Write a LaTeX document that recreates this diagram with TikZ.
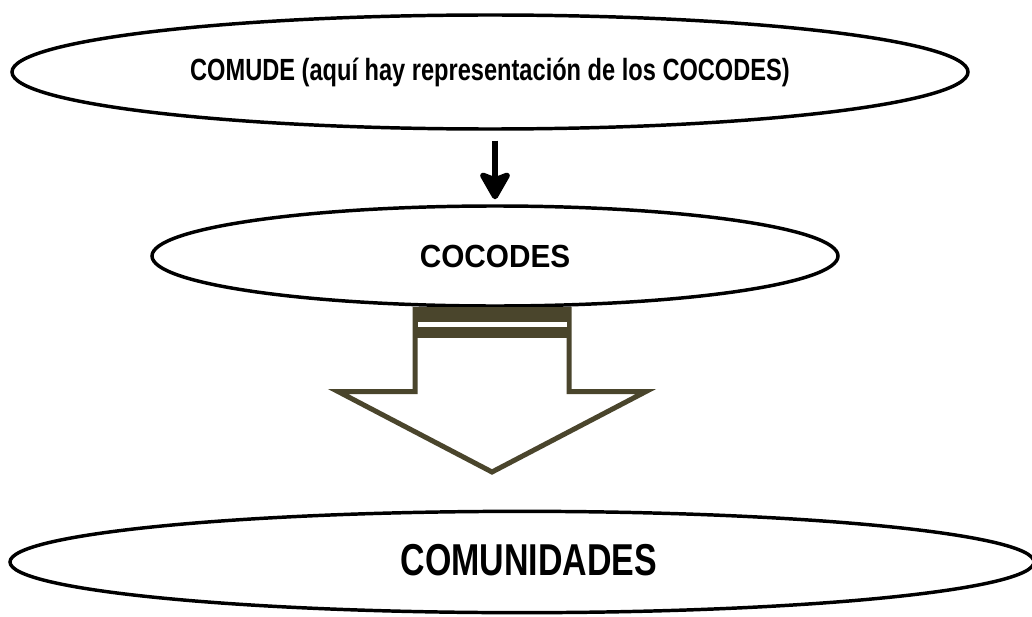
\documentclass[tikz,border=0pt]{standalone}
\usepackage{fontspec}
\setmainfont{Liberation Sans}
\usepackage{graphicx}
\usepackage{tikz}
\usetikzlibrary{shapes.geometric,arrows.meta}
\definecolor{arrowbrown}{RGB}{74,69,44}
\tikzset{
  levelnode/.style={ellipse,draw=black,line width=2.6pt,fill=white,
    inner sep=0pt,font=\bfseries},
  linkarrow/.style={line width=4.5pt,
    -{Stealth[length=24pt,width=27pt,inset=5pt,round]}},
  blockarrow/.style={draw=arrowbrown,fill=white,line width=3.75pt,
    line join=miter},
  blockbar/.style={fill=arrowbrown}
}

\begin{document}
\begin{tikzpicture}[x=0.75pt,y=-0.75pt]
  \useasboundingbox (0,0) rectangle (1032,617);

  \node[levelnode,minimum width=717pt,minimum height=85.5pt] (comude) at (490,72)
    {\fontsize{23pt}{23pt}\selectfont\scalebox{0.77}[1]{COMUDE (aquí hay representación de los COCODES)}};
  \node[levelnode,minimum width=514.5pt,minimum height=75pt] (cocodes) at (495,256)
    {\fontsize{24pt}{24pt}\selectfont\scalebox{0.93}[1]{COCODES}};
  \node[levelnode,minimum width=768pt,minimum height=76pt] (comunidades) at (522,562)
    {\hspace*{10.5pt}\raisebox{3.75pt}{\fontsize{33.5pt}{33.5pt}\selectfont\scalebox{0.76}[1]{COMUNIDADES}}};

  \draw[linkarrow,shorten <=7.5pt,shorten >=3.75pt] (comude.south -| cocodes.north) -- (cocodes.north);

  % hollow arrow from COCODES down to the communities
  \filldraw[blockarrow] (415,309.5) -- (415,391.5) -- (338,391.5) -- (492,472)
    -- (646,391.5) -- (569,391.5) -- (569,309.5) -- cycle;
  \fill[blockbar] (413,307) rectangle (571,338);
  \fill[white] (417.7,322) rectangle (566.7,327);
\end{tikzpicture}
\end{document}
